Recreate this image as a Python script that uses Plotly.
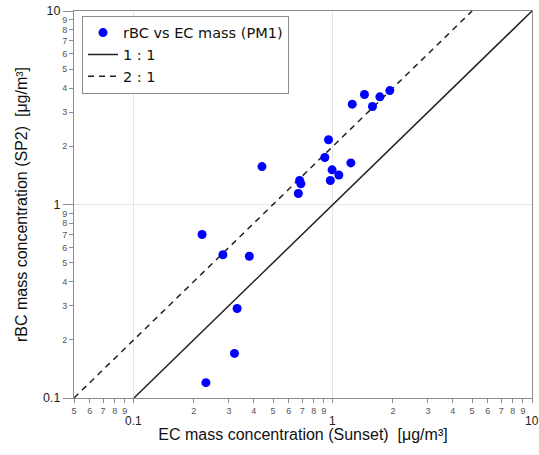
import math
import plotly.graph_objects as go

# data
ec_mass = [0.22, 0.28, 0.38, 0.33, 0.32, 0.23, 0.44, 0.68, 0.69, 0.67, 0.95,
           0.91, 0.99, 1.07, 0.97, 1.23, 1.25, 1.44, 1.58, 1.72, 1.93]
rbc_mass = [0.70, 0.55, 0.54, 0.29, 0.17, 0.12, 1.57, 1.33, 1.28, 1.14, 2.16,
            1.75, 1.51, 1.42, 1.33, 1.64, 3.30, 3.70, 3.21, 3.60, 3.88]

line11_x = [0.1, 10]
line21_x = [0.05, 5]

x_range = [0.05, 10]
y_range = [0.1, 10]

x_major = [0.1, 1, 10]
x_major_text = ["0.1", "1", "10"]
x_minor = [0.05, 0.06, 0.07, 0.08, 0.09, 0.2, 0.3, 0.4, 0.5, 0.6, 0.7, 0.8, 0.9,
           2, 3, 4, 5, 6, 7, 8, 9]
x_minor_text = ["5", "6", "7", "8", "9", "2", "3", "4", "5", "6", "7", "8", "9",
                "2", "3", "4", "5", "6", "7", "8", "9"]
y_major = [0.1, 1, 10]
y_major_text = ["0.1", "1", "10"]
y_minor = [0.2, 0.3, 0.4, 0.5, 0.6, 0.7, 0.8, 0.9, 2, 3, 4, 5, 6, 7, 8, 9]
y_minor_text = ["2", "3", "4", "5", "6", "7", "8", "9",
                "2", "3", "4", "5", "6", "7", "8", "9"]

FONT = "Liberation Sans, Arial, sans-serif"
AX = "#8c8c8c"

fig = go.Figure()
fig.add_trace(go.Scatter(
    x=ec_mass, y=rbc_mass, mode="markers", name="rBC vs EC mass (PM1)",
    marker=dict(color="#0000ff", size=9), xaxis="x2", yaxis="y2"))
fig.add_trace(go.Scatter(
    x=line11_x, y=line11_x, mode="lines", name="1 : 1",
    line=dict(color="#222222", width=1.5)))
fig.add_trace(go.Scatter(
    x=line21_x, y=[2 * v for v in line21_x], mode="lines", name="2 : 1",
    line=dict(color="#222222", width=1.5, dash="6px,5px")))

xr = [math.log10(v) for v in x_range]
yr = [math.log10(v) for v in y_range]

# major x tick labels (placed on the x axis scale, below the minor digits)
for v, t in zip(x_major, x_major_text):
    fig.add_annotation(x=math.log10(v), xref="x", y=0, yref="paper",
                       yanchor="top", xanchor="center", yshift=-15,
                       text=t, showarrow=False, borderpad=0,
                       font=dict(size=12, color="#222", family=FONT))

fig.update_layout(
    width=539, height=455,
    margin=dict(l=74, r=7, t=11, b=57, autoexpand=False),
    paper_bgcolor="white", plot_bgcolor="white",
    font=dict(family=FONT, color="#222"),
    showlegend=True,
    legend=dict(x=0.0175, y=0.988, xanchor="left", yanchor="top",
                bgcolor="white", bordercolor="#8c8c8c", borderwidth=1,
                font=dict(size=14.5, family="DejaVu Sans, sans-serif", color="#111"),
                tracegroupgap=0, itemwidth=30),
    xaxis=dict(type="log", range=xr, tickmode="array", tickvals=x_major,
               ticks="", showticklabels=False, automargin=False,
               showline=True, linecolor=AX, linewidth=1, mirror=True,
               showgrid=True, gridcolor="#e6e6e6", gridwidth=1, zeroline=False,
               title=dict(text="EC mass concentration (Sunset) \u00a0[μg/m³]",
                          font=dict(size=16, color="#111"), standoff=30)),
    yaxis=dict(type="log", range=yr, tickmode="array", tickvals=y_major,
               ticktext=y_major_text, ticks="outside", ticklen=10,
               tickcolor=AX, tickfont=dict(size=12.5, color="#222"),
               automargin=False, ticklabeloverflow="allow",
               showline=True, linecolor=AX, linewidth=1, mirror=True,
               showgrid=True, gridcolor="#e6e6e6", gridwidth=1, zeroline=False,
               title=dict(text="rBC mass concentration (SP2) \u00a0[μg/m³]",
                          font=dict(size=16, color="#111"), standoff=11)),
    xaxis2=dict(type="log", range=xr, overlaying="x", anchor="y", side="bottom",
                tickmode="array", tickvals=x_major + x_minor,
                ticktext=[""] * len(x_major) + x_minor_text,
                ticks="outside", ticklen=4, tickcolor=AX, automargin=False,
                ticklabeloverflow="allow",
                tickfont=dict(size=9, color="#555"),
                showline=False, showgrid=False, zeroline=False),
    yaxis2=dict(type="log", range=yr, overlaying="y", anchor="x", side="left",
                tickmode="array", tickvals=y_minor, ticktext=y_minor_text,
                ticks="outside", ticklen=4, tickcolor=AX, automargin=False,
                ticklabeloverflow="allow",
                tickfont=dict(size=9, color="#555"),
                showline=False, showgrid=False, zeroline=False),
)

fig.write_html("out.html")
